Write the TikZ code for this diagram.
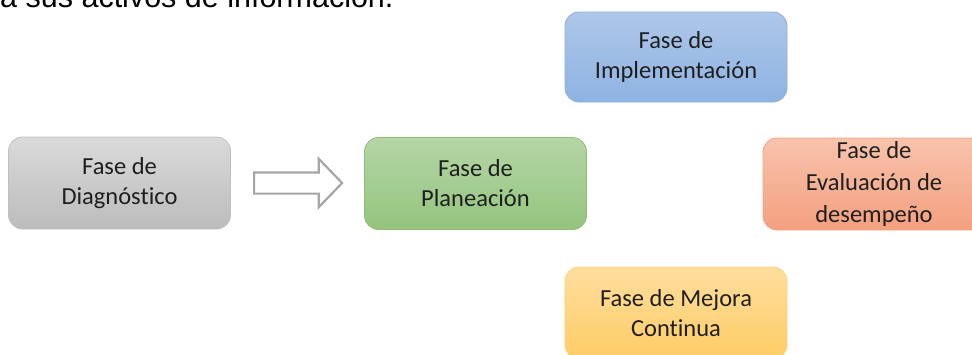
\documentclass[tikz,border=0pt]{standalone}
\usepackage{fontspec}
\setmainfont{Carlito}[Ligatures=NoCommon]
\newfontfamily\arialfont{Liberation Sans}
\usetikzlibrary{shapes.arrows}
\definecolor{grayT}{HTML}{DADADA}\definecolor{grayB}{HTML}{BCBCBC}\definecolor{grayD}{HTML}{C0C0C0}
\definecolor{greenT}{HTML}{B5D6A7}\definecolor{greenB}{HTML}{93C47D}\definecolor{greenD}{HTML}{8DBF73}
\definecolor{blueT}{HTML}{AEC7E9}\definecolor{blueB}{HTML}{8EB3E2}\definecolor{blueD}{HTML}{8FB0DC}
\definecolor{oranT}{HTML}{F8C3AC}\definecolor{oranB}{HTML}{F3A07F}\definecolor{oranD}{HTML}{F2A584}
\definecolor{yellT}{HTML}{FFDE9E}\definecolor{yellB}{HTML}{FFCC66}\definecolor{yellD}{HTML}{FFD27A}
\definecolor{arrowD}{HTML}{A6A6A6}
\begin{document}
\begin{tikzpicture}[x=1pt,y=-1pt,
  phase/.style={rectangle, rounded corners=14pt, line width=0.8pt, align=center,
    font=\fontsize{24.5}{30}\selectfont, text={black!88}, inner sep=0pt,
    minimum width=222pt, minimum height=92pt},
  blockarrow/.style={single arrow, draw=arrowD, fill=white, line width=2.2pt,
    inner xsep=0pt, inner ysep=9.5pt, single arrow head extend=13.5pt,
    single arrow tip angle=92, minimum height=88pt}]
\useasboundingbox (0,0) rectangle (972,354);
\clip (0,0) rectangle (972,354);
\node[anchor=base west, font=\arialfont\fontsize{30.5}{36}\selectfont, inner sep=0pt] (title) at (0,7) {a sus activos de información.};
\node[phase, top color=grayT, bottom color=grayB, draw=grayD] (diag) at (119.5,183) {Fase de\\Diagnóstico};
\node[phase, top color=greenT, bottom color=greenB, draw=greenD] (plan) at (475.5,183.5) {Fase de\\Planeación};
\node[phase, top color=blueT, bottom color=blueB, draw=blueD, minimum height=90pt] (impl) at (676,57) {Fase de\\Implementación};
\node[phase, top color=oranT, bottom color=oranB, draw=oranD, font=\fontsize{24.5}{32}\selectfont] (eval) at (874,184) {Fase de\\Evaluación de\\desempeño};
\node[phase, top color=yellT, bottom color=yellB, draw=yellD] (mejo) at (676,313) {Fase de Mejora\\Continua};
\node[blockarrow] (arr) at (293,183) {};
\end{tikzpicture}
\end{document}
